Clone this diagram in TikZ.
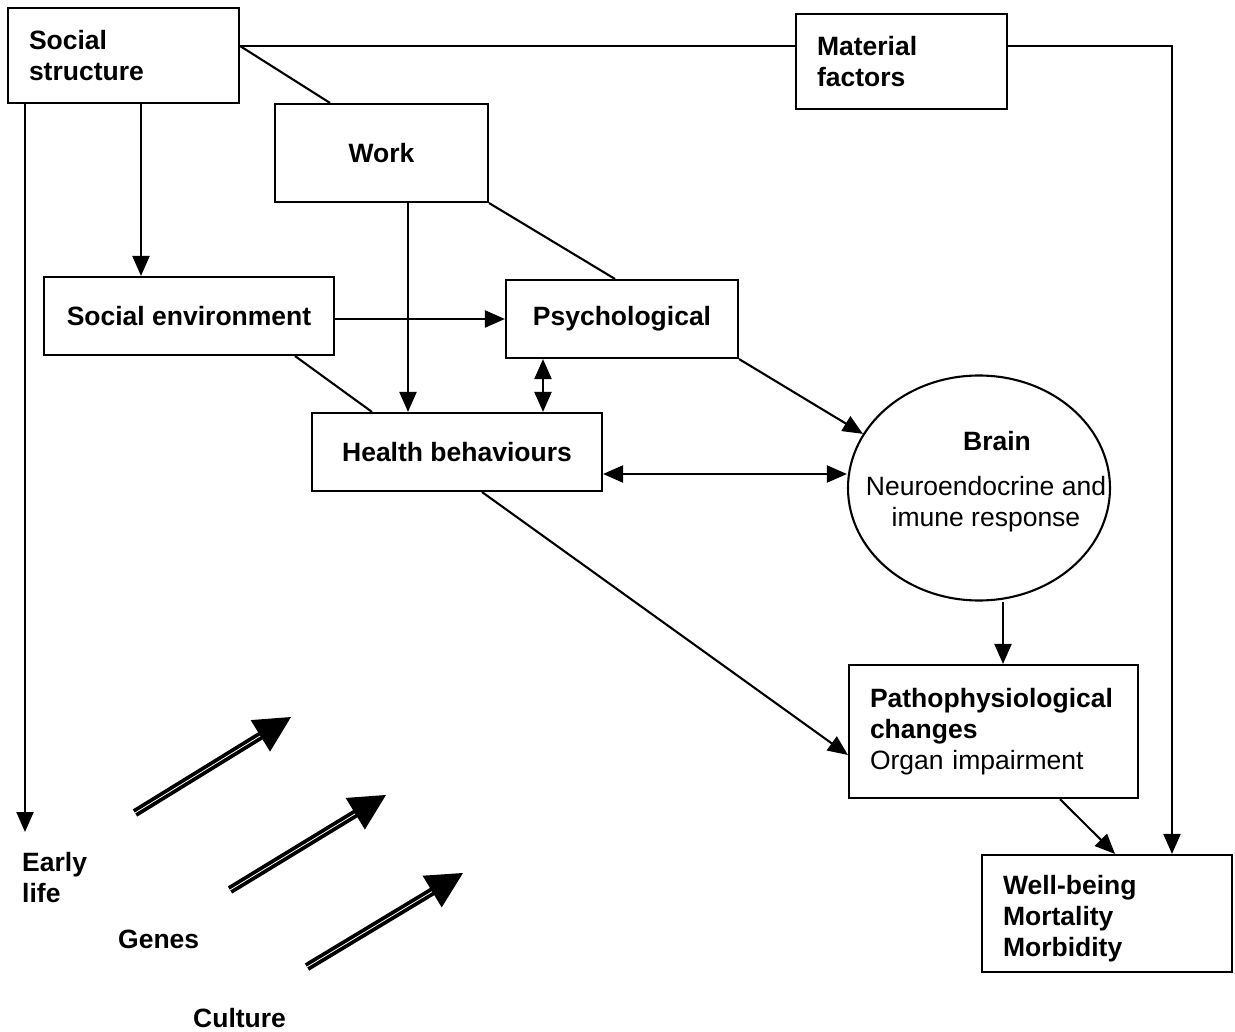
\documentclass[tikz,border=0pt]{standalone}
\usepackage{fontspec}
\setmainfont{Liberation Sans}
\usetikzlibrary{arrows.meta,shapes.geometric,calc}
\begin{document}
\begin{tikzpicture}[x=1pt,y=-1pt,
  txt/.style={font=\fontsize{26.5}{31}\selectfont\bfseries},
  box/.style={txt, draw, line width=2.1pt, fill=white, inner sep=0pt},
  lbox/.style={box, align=left, inner xsep=21pt},
  lab/.style={txt, inner sep=0pt, align=left},
  conn/.style={line width=2.1pt},
  arr/.style={conn, -{Triangle[length=20pt,width=17pt]}},
  darr/.style={conn, {Triangle[length=20pt,width=17pt]}-{Triangle[length=20pt,width=17pt]}},
  bigshaft/.style={line width=3.8pt, double=white, double distance=0.8pt},
]
\useasboundingbox (0,0) rectangle (1235,1032);

% ---------- nodes ----------
\node[lbox, text width=189pt, minimum height=95pt] (ss) at (123.5,55.5) {Social\\structure};
\node[lbox, text width=169pt, minimum height=95pt] (mf) at (901.5,61.5) {Material\\factors};
\node[box, minimum width=213pt, minimum height=98pt] (work) at (381.5,153) {Work};
\node[box, minimum width=290pt, minimum height=78pt] (se) at (189,316) {Social environment};
\node[box, minimum width=232pt, minimum height=78pt] (psych) at (622,319) {Psychological};
\node[box, minimum width=290pt, minimum height=78pt] (hb) at (457,452) {Health behaviours};
\node[draw, ellipse, line width=2.1pt, minimum width=262pt, minimum height=225pt, inner sep=0pt] (brain) at (979,488) {};
\node[lab] (brainT) at (997,441) {Brain};
\node[txt, inner sep=0pt, align=center, font=\fontsize{26.5}{31}\selectfont\mdseries] (brainB) at (986,504) {Neuroendocrine and\\imune response};
\node[lbox, text width=247pt, minimum height=133pt] (patho) at (993.5,731.5) {Pathophysiological\\changes\\{\mdseries Organ impairment}};
\node[lbox, text width=208pt, minimum height=117pt] (wb) at (1107,913.5) {\rule{0pt}{29pt}Well-being\\Mortality\\Morbidity};
\node[lab, anchor=west] (early) at (22,878) {Early\\life};
\node[lab, anchor=base west] (genes) at (118,948) {Genes};
\node[lab, anchor=base west] (culture) at (193,1027) {Culture};

% ---------- helper coordinates ----------
\coordinate (yTop) at (0,46);
\coordinate (c1) at (1172,46);
\coordinate (xW) at (330,0);
\coordinate (elEnd) at (25,832);
\coordinate (x141) at (141,0);
\coordinate (x408) at (408,0);
\coordinate (x615) at (615,0);
\coordinate (y319) at (0,319);
\coordinate (x295) at (295,0);
\coordinate (x372) at (372,0);
\coordinate (x543) at (543,0);
\coordinate (y474) at (0,474);
\coordinate (x482) at (482,0);
\coordinate (y755) at (0,755);
\coordinate (x1003) at (1003,0);
\coordinate (x1060) at (1060,0);
\coordinate (x1115) at (1115,0);

% ---------- connectors ----------
\draw[conn] (ss.east |- yTop) -- (mf.west |- yTop);
\draw[arr] (mf.east |- yTop) -- (c1) -- (c1 |- wb.north);
\draw[conn] (ss.east |- yTop) -- (work.north -| xW);
\draw[arr] (ss.south -| elEnd) -- (elEnd);
\draw[arr] (ss.south -| x141) -- (se.north -| x141);
\draw[arr] (work.south -| x408) -- (hb.north -| x408);
\draw[conn] (work.south east) -- (psych.north -| x615);
\draw[arr] (se.east |- y319) -- (psych.west |- y319);
\draw[conn] (se.south -| x295) -- (hb.north -| x372);
\draw[darr] (psych.south -| x543) -- (hb.north -| x543);
\draw[arr] (psych.south east) -- (brain.155);
\draw[darr] (hb.east |- y474) -- (brain.west |- y474);
\draw[arr] (hb.south -| x482) -- (patho.west |- y755);
\draw[arr] (brain.south -| x1003) -- (patho.north -| x1003);
\draw[arr] (patho.south -| x1060) -- (wb.north -| x1115);

% ---------- big double arrows ----------
\foreach \s/\t [count=\i] in {{135,813}/{291,717}, {230,890}/{386,795}, {307,967}/{463,873}} {
  \coordinate (s\i) at (\s);
  \coordinate (t\i) at (\t);
  \coordinate (b\i) at ($(t\i)!36pt!(s\i)$);
  \draw[bigshaft] (s\i) -- ($(t\i)!30pt!(s\i)$);
  \fill (t\i) -- ($(b\i)!18.5pt!90:(t\i)$) -- ($(b\i)!18.5pt!-90:(t\i)$) -- cycle;
}
\end{tikzpicture}
\end{document}
